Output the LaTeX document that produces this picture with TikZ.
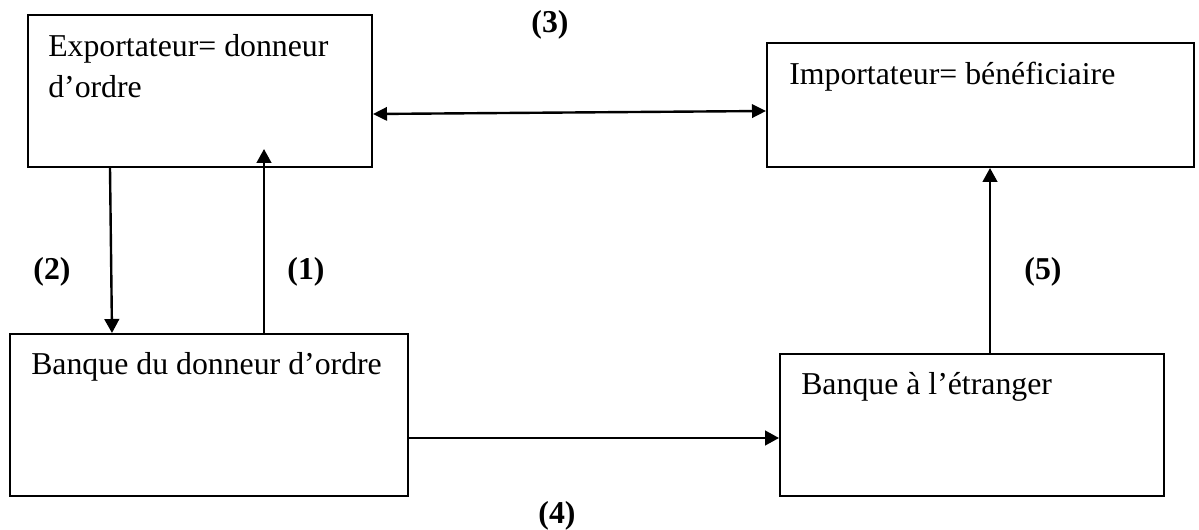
\documentclass[tikz,border=0pt]{standalone}
\usepackage{fontspec}
\setmainfont{Liberation Serif}
\usetikzlibrary{arrows.meta}
\begin{document}
\begin{tikzpicture}[x=0.75pt,y=-0.75pt,
  box/.style={draw=black,line width=1.5pt,inner sep=0pt,rectangle},
  lbl/.style={inner sep=0pt,anchor=base west,font=\fontsize{23.85}{29}\selectfont},
  num/.style={inner sep=0pt,anchor=center,font=\fontsize{23.85}{29}\selectfont\bfseries},
  arr/.style={line width=1.8pt,-{Triangle[length=10.5pt,width=11pt]}},
  darr/.style={line width=1.8pt,{Triangle[length=10.5pt,width=10pt]}-{Triangle[length=10.5pt,width=10pt]}}]
\useasboundingbox (0,0) rectangle (1199,530);
% boxes
\node[box,minimum width=258pt,minimum height=114pt] (exp) at (200,91) {};
\node[box,minimum width=320.25pt,minimum height=93pt] (imp) at (980.5,105) {};
\node[box,minimum width=298.5pt,minimum height=121.5pt] (dbank) at (209,415) {};
\node[box,minimum width=288pt,minimum height=106.5pt] (fbank) at (972,425) {};
% box texts
\node[lbl] (expA) at (48,57) {Exportateur= donneur};
\node[lbl] (expB) at (48,98) {d’ordre};
\node[lbl] (impA) at (789,85) {Importateur= bénéficiaire};
\node[lbl] (dbankA) at (31,375) {Banque du donneur d’ordre};
\node[lbl] (fbankA) at (801,395) {Banque à l’étranger};
% reference points for the connectors
\coordinate (c1) at (264,149);
\coordinate (c2a) at (110,0);
\coordinate (c2b) at (112,0);
\coordinate (c3a) at (0,114);
\coordinate (c3b) at (0,111);
\coordinate (c4) at (0,438);
\coordinate (c5) at (990,0);
% connectors
\draw[darr] (exp.east |- c3a) -- (imp.west |- c3b);
\draw[arr] (exp.south -| c2a) -- (dbank.north -| c2b);
\draw[arr] (dbank.north -| c1) -- (c1);
\draw[arr] (dbank.east |- c4) -- (fbank.west |- c4);
\draw[arr] (fbank.north -| c5) -- (imp.south -| c5);
% step numbers
\node[num] (n3) at (550,25) {(3)};
\node[num] (n2) at (52,272) {(2)};
\node[num] (n1) at (306,272) {(1)};
\node[num] (n5) at (1043,272) {(5)};
\node[num] (n4) at (557,516) {(4)};
\end{tikzpicture}
\end{document}
